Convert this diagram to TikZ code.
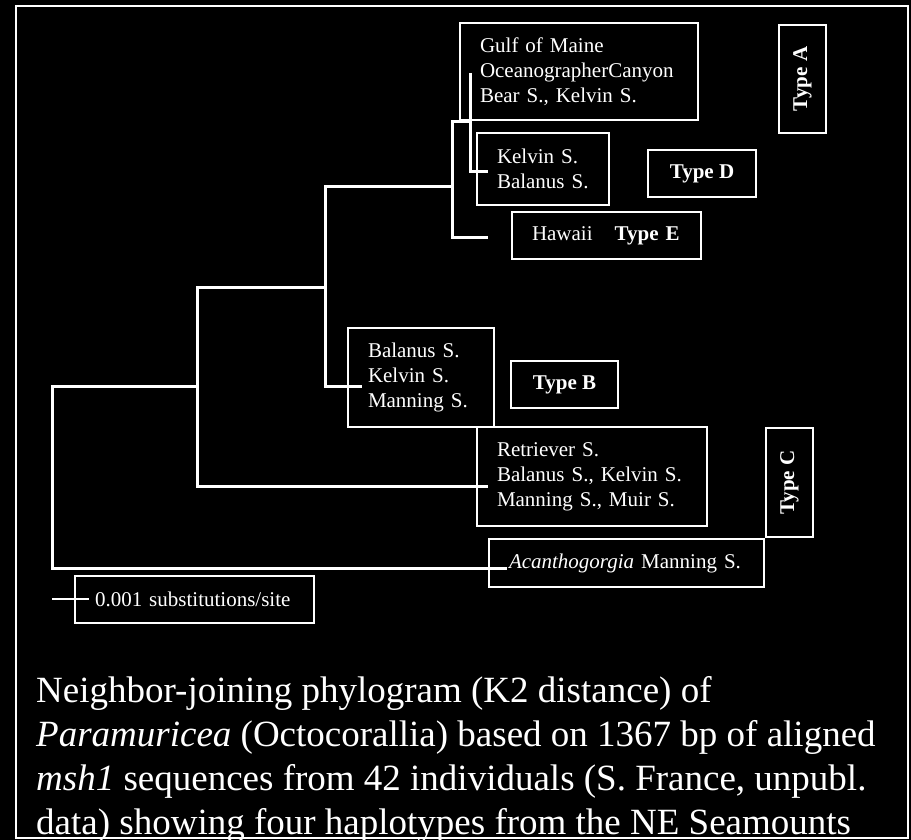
\documentclass[tikz,border=0pt]{standalone}
\usepackage{fontspec}
\setmainfont{Liberation Serif}
\usepackage{tikz}
\usetikzlibrary{positioning}
\newcommand{\sitefont}{\fontsize{21}{25}\selectfont}
\newcommand{\capfont}{\fontsize{37}{44}\selectfont}
\tikzset{
  branch/.style={draw=white, line width=3pt},
  scalebar/.style={draw=white, line width=2pt},
  sitebox/.style={draw=white, line width=2pt, text=white, align=left, inner xsep=20pt, inner ysep=0pt, anchor=north west, font=\sitefont},
  typebox/.style={draw=white, line width=2pt, text=white, inner sep=0pt, font=\sitefont\bfseries},
  caption/.style={text=white, inner sep=0pt, anchor=base west, font=\capfont},
  plate/.style={draw=white, line width=2pt}
}
\begin{document}
\begin{tikzpicture}[x=1pt,y=-1pt]
  \fill[black] (0,0) rectangle (911,840);
  \useasboundingbox (0,0) rectangle (911,840);
  \node[sitebox, text width=198pt, minimum height=97pt] (gulf) at (459,22) {Gulf of Maine\\OceanographerCanyon\\Bear S., Kelvin S.};
  \node[sitebox, text width=92pt, minimum height=72pt] (kelvin) at (476,132) {Kelvin S.\\Balanus S.};
  \node[sitebox, text width=149pt, minimum height=47pt] (hawaii) at (511,211) {\mbox{Hawaii\hspace{22pt}\textbf{Type E}}};
  \node[sitebox, text width=106pt, minimum height=99pt] (balanus) at (347,327) {Balanus S.\\Kelvin S.\\Manning S.};
  \node[sitebox, text width=190pt, minimum height=99pt] (retriever) at (476,426) {Retriever S.\\Balanus S., Kelvin S.\\Manning S., Muir S.};
  \node[sitebox, text width=235pt, minimum height=48pt] (acantho) at (488,538) {\mbox{\textit{Acanthogorgia} Manning S.}};
  \node[sitebox, text width=199pt, minimum height=47pt] (scale) at (74,575) {\mbox{0.001 substitutions/site}};
  \node[typebox, rotate=90, minimum width=108pt, minimum height=47pt] (typeA) at (802.5,79) {Type A};
  \node[typebox, minimum width=108pt, minimum height=47pt] (typeD) at (702,173.5) {Type D};
  \node[typebox, minimum width=107pt, minimum height=47pt] (typeB) at (564.5,384.5) {Type B};
  \node[typebox, rotate=90, minimum width=109pt, minimum height=47pt] (typeC) at (789.5,482.5) {Type C};
  \coordinate (root) at (52,477);
  \coordinate (nAB) at (197,386);
  \coordinate (nBDEA) at (325,287);
  \coordinate (nDEA) at (452,187);
  \coordinate (nDA) at (470,122);
  \coordinate (tA) at (470,73);
  \coordinate (tD) at (488,172);
  \coordinate (tE) at (488,237);
  \coordinate (tB) at (362,386);
  \coordinate (tC) at (488,486);
  \coordinate (tOut) at (507,568);
  \coordinate (sbar) at (52,599);
  \draw[branch] (tA) -- (nDA) |- (tD);
  \draw[branch] (nDA) -| (nDEA) |- (tE);
  \draw[branch] (nDEA) -| (nBDEA) |- (tB);
  \draw[branch] (nBDEA) -| (nAB) |- (tC);
  \draw[branch] (nAB) -| (root) |- (tOut);
  \draw[scalebar] (sbar) -- ++(37,0);
  \node[caption] (cap1) at (36,702) {Neighbor-joining phylogram (K2 distance) of};
  \node[caption] (cap2) at (36,746) {\textit{Paramuricea} (Octocorallia) based on 1367 bp of aligned};
  \node[caption] (cap3) at (36,790) {\textit{msh1} sequences from 42 individuals (S. France, unpubl.};
  \node[caption] (cap4) at (36,834) {data) showing four haplotypes from the NE Seamounts};
  \draw[plate] (16,6) rectangle (908,838);
\end{tikzpicture}
\end{document}
